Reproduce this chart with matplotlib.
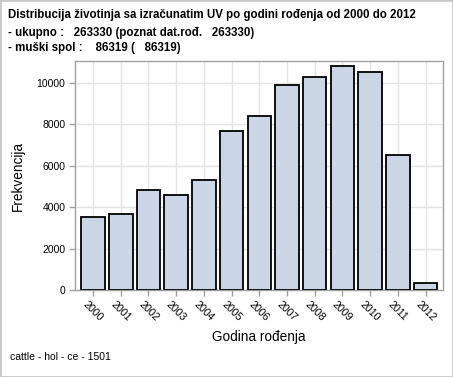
import matplotlib
matplotlib.use("Agg")
import matplotlib.pyplot as plt
from matplotlib.patches import Rectangle

years = ["2000", "2001", "2002", "2003", "2004", "2005", "2006",
         "2007", "2008", "2009", "2010", "2011", "2012"]
counts = [3540, 3680, 4835, 4590, 5315, 7665, 8415,
          9875, 10260, 10790, 10530, 6495, 350]
yticks = [0, 2000, 4000, 6000, 8000, 10000]

title_lines = ["Distribucija životinja sa izračunatim UV po godini rođenja od 2000 do 2012",
               "- ukupno :   263330 (poznat dat.rođ.   263330)",
               "- muški spol :    86319 (   86319)"]
footnote = "cattle - hol - ce - 1501"

plt.rcParams['font.family'] = ['Liberation Sans', 'DejaVu Sans']

W, H = 453, 377
fig = plt.figure(figsize=(W / 100, H / 100), dpi=100)
fig.patches.append(Rectangle((0, 0), 1, 1, transform=fig.transFigure,
                             fill=False, edgecolor='#c8c8c8', linewidth=2))

# axes box in pixel coords: left 75, right 443, top 61, bottom 290
ax = fig.add_axes([75 / W, 1 - 290 / H, (443 - 75) / W, (290 - 61) / H])

x = list(range(len(years)))
ax.bar(x, counts, width=0.85, color='#cad5e5', edgecolor='black', linewidth=1.3, zorder=3)

ax.set_xlim(-0.65, 12.63)
ax.set_ylim(0, 11050)
ax.set_xticks(x)
ax.set_xticklabels(years, rotation=-45, ha='center', fontsize=7.7)
ax.set_yticks(yticks)
ax.set_yticklabels([str(v) for v in yticks], fontsize=7.5)
ax.grid(True, color='#e3e3e3', linewidth=1, zorder=0)
ax.set_axisbelow(True)
for s in ax.spines.values():
    s.set_color('#a0a0a0')
    s.set_linewidth(1)
ax.tick_params(axis='both', colors='#a0a0a0', length=4, width=1, labelcolor='black', pad=3)

ax.set_xlabel("Godina rođenja", fontsize=9.8, labelpad=5)
ax.set_ylabel("Frekvencija", fontsize=9.8, labelpad=8)

ys = [15, 33, 48]
for line, yy in zip(title_lines, ys):
    fig.text(8 / W, 1 - yy / H, line, fontsize=8.3, fontweight='bold', va='center', ha='left')
fig.text(10 / W, 1 - 357 / H, footnote, fontsize=7.5, va='center', ha='left')

fig.savefig("out.png", dpi=100)
